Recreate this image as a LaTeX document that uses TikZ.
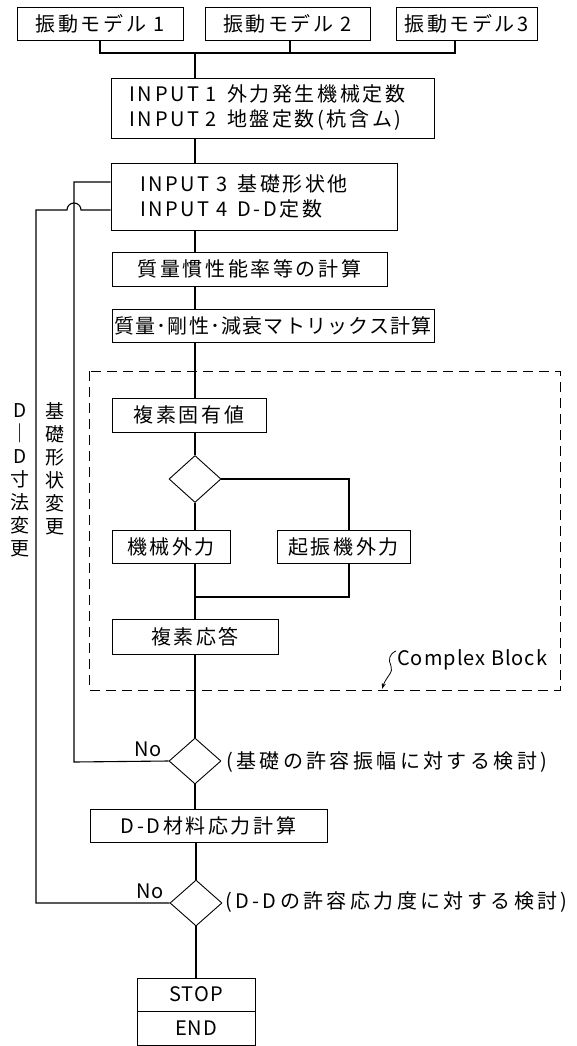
\documentclass[tikz,border=0pt]{standalone}
\usepackage{fontspec}
\setmainfont{Noto Sans CJK JP}[LetterSpace=13]
\newfontfamily\jpnarrow{Noto Sans CJK JP}[LetterSpace=6]
\newfontfamily\jpwide{Noto Sans CJK JP}[LetterSpace=17]
\newfontfamily\latfont{Noto Sans CJK JP}[LetterSpace=5]
\usetikzlibrary{shapes.geometric,arrows.meta}
\newcommand\dgfont{\fontsize{20}{25}\selectfont}
\newcommand\vfont{\fontsize{19}{23}\selectfont}
\begin{document}
\begin{tikzpicture}[x=1pt,y=-1pt,
  box/.style={draw, line width=0.9pt, inner sep=0pt, minimum height=33pt, font=\dgfont},
  dia/.style={draw, diamond, line width=0.9pt, inner sep=0pt, minimum width=52pt, minimum height=47pt},
  ln/.style={line width=1.1pt},
  lbl/.style={inner sep=0pt, font=\dgfont},
  vlbl/.style={inner sep=0pt, align=center, font=\vfont},
]
\useasboundingbox (0,0) rectangle (576,1046);

% top boxes
\node[box, minimum width=166pt] (m1) at (100,23.5) {振動モデル 1};
\node[box, minimum width=165pt] (m2) at (287.5,23.5) {振動モデル 2};
\node[box, minimum width=141pt] (m3) at (466.5,23.5) {振動モデル3};

\node[box, minimum width=323pt, minimum height=60pt, text width=286pt, align=left] (in12) at (272.5,108)
  {INPUT 1\hspace{10pt}外力発生機械定数\\INPUT 2\hspace{10pt}地盤定数(杭含ム)};
\node[box, minimum width=286pt, minimum height=67pt, text width=228pt, align=left] (in34) at (254,196.5)
  {INPUT 3\hspace{10pt}基礎形状他\\INPUT 4\hspace{10pt}D-D定数};
\node[box, minimum width=275pt, minimum height=34pt] (inert) at (249.5,269) {質量慣性能率等の計算};
\node[box, minimum width=322pt, font=\dgfont\jpnarrow] (matx) at (273,325.5) {質量･剛性･減衰マトリックス計算};

% complex block
\draw[line width=0.9pt, dash pattern=on 10pt off 6pt] (89,371) rectangle (560,690);
\node[box, minimum width=154pt, minimum height=34pt] (eig) at (189,415) {複素固有値};
\node[dia] (d1) at (195,479) {};
\node[box, minimum width=118pt] (mech) at (171,546.5) {機械外力};
\node[box, minimum width=133pt] (exc) at (343.5,546.5) {起振機外力};
\node[box, minimum width=166pt, minimum height=35pt] (resp) at (195,636.5) {複素応答};
\node[lbl, anchor=west, font=\dgfont\latfont] (cb) at (397,660) {Complex Block};

\node[dia, minimum height=46pt] (d2) at (195,761) {};
\node[lbl, anchor=west, font=\dgfont\jpwide] (t2) at (226,762) {(基礎の許容振幅に対する検討)};
\node[lbl, font=\dgfont\latfont] (no2) at (148,749) {No};

\node[box, minimum width=237pt] (dd) at (208.5,825.5) {D-D材料応力計算};

\node[dia, minimum height=46pt] (d3) at (196,903) {};
\node[lbl, anchor=west, font=\dgfont\jpwide] (t3) at (225,902) {(D-Dの許容応力度に対する検討)};
\node[lbl, font=\dgfont\latfont] (no3) at (150,891) {No};

\node[box, minimum width=118pt, font=\dgfont\latfont] (stop) at (196,994.5) {STOP};
\node[box, minimum width=118pt, minimum height=34pt, font=\dgfont\latfont] (endb) at (196,1028) {END};

% vertical labels
\node[vlbl] (vdd) at (20,480) {D\\｜\\D\\寸\\法\\変\\更};
\node[vlbl] (vkiso) at (55,469) {基\\礎\\形\\状\\変\\更};

% coordinates
\coordinate (b1) at (100,53);
\coordinate (b2) at (290,53);
\coordinate (b3) at (455,53);
\coordinate (mx) at (195,53);
\coordinate (rx) at (349,479);
\coordinate (jn) at (195,597);
\coordinate (i1) at (74,182);
\coordinate (i2) at (74,762);
\coordinate (o1) at (36,210);
\coordinate (o2) at (36,903);
\coordinate (hr) at (81,210);
\coordinate (hl) at (67,210);

% connectors
\draw[ln] (m1.south -| b1) -- (b1) -- (b3) -- (m3.south -| b3);
\draw[ln] (m2.south -| b2) -- (b2);
\draw[ln] (mx) -- (in12.north -| mx);
\draw[ln] (in12.south -| mx) -- (in34.north -| mx);
\draw[ln] (in34.south -| mx) -- (inert.north -| mx);
\draw[ln] (inert.south -| mx) -- (matx.north -| mx);
\draw[ln] (matx.south -| mx) -- (eig.north -| mx);
\draw[ln] (eig.south -| mx) -- (d1.north);
\draw[ln] (d1.south) -- (mech.north -| mx);
\draw[ln] (d1.east) -- (rx) -- (exc.north -| rx);
\draw[ln] (mech.south -| mx) -- (resp.north -| mx);
\draw[ln] (exc.south -| rx) |- (jn);
\draw[ln] (resp.south -| mx) -- (d2.north);
\draw[ln] (d2.south) -- (dd.north -| d2.south);
\draw[ln] (dd.south -| d3.north) -- (d3.north);
\draw[ln] (d3.south) -- (stop.north);

% feedback loops
\draw[ln] (i1 -| in34.west) -- (i1) -- (i2) -- (d2.west);
\draw[ln] (o1 -| in34.west) -- (hr) arc[start angle=0, end angle=-180, radius=7] -- (o1) -- (o2) -- (d3.west);

% leader for Complex Block
\draw[line width=0.8pt, -{Stealth[length=6pt,width=4pt]}] (396,651) .. controls (389,654) and (388,660) .. (391,666)
  .. controls (394,672) and (386,677) .. (382,689);
\end{tikzpicture}
\end{document}
